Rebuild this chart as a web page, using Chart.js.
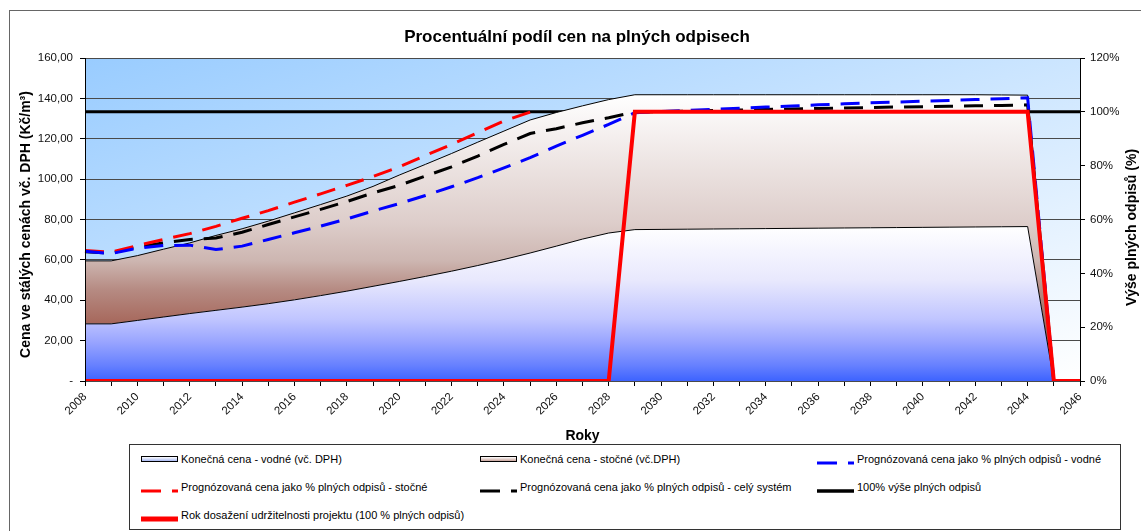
<!DOCTYPE html>
<html lang="cs">
<head>
<meta charset="utf-8">
<title>Procentuální podíl cen na plných odpisech</title>
<script src="https://cdn.jsdelivr.net/npm/chart.js@4.4.1/dist/chart.umd.min.js"></script>
<style>
  body { margin: 0; background: #fff; font-family: 'Liberation Sans', Arial, sans-serif; }
  #wrap { position: relative; width: 1141px; height: 531px; overflow: hidden; }
  #frame { position: absolute; left: 9px; top: 10px; width: 1200px; height: 600px; border: 1px solid #666; }
  #chart { position: absolute; left: 0; top: 0; }
  #legend {
    position: absolute; left: 129px; top: 444px; width: 992px; height: 86px;
    box-sizing: border-box; border: 1px solid #333; background: #fff;
    padding-left: 11px;
    display: grid; grid-template-columns: 339px 337px auto; grid-auto-rows: 28px;
  }
  #legend .item { display: flex; align-items: center; font-size: 11px; color: #000; white-space: nowrap; }
  #legend .swatch { width: 37px; height: 6px; margin-right: 3px; flex: none; }
  #legend .area { box-sizing: border-box; border: 1px solid #000; }
</style>
</head>
<body>
<div id="wrap">
  <div id="frame"></div>
  <canvas id="chart" width="1141" height="531"></canvas>
  <div id="legend"></div>
</div>
<script>
// Roky 2008-2046
const years = [2008, 2009, 2010, 2011, 2012, 2013, 2014, 2015, 2016, 2017, 2018, 2019, 2020,
               2021, 2022, 2023, 2024, 2025, 2026, 2027, 2028, 2029, 2030, 2031, 2032, 2033,
               2034, 2035, 2036, 2037, 2038, 2039, 2040, 2041, 2042, 2043, 2044, 2045, 2046];

// Konečná cena - vodné (Kč/m3)
const vodne = [28.3, 28.3, 30.0, 31.7, 33.4, 35.0, 36.6, 38.3, 40.2, 42.3, 44.5, 46.9, 49.3,
               51.8, 54.4, 57.2, 60.2, 63.4, 66.8, 70.3, 73.3, 75.0, 75.1, 75.2, 75.3, 75.4,
               75.5, 75.6, 75.7, 75.8, 75.9, 76.0, 76.1, 76.2, 76.3, 76.4, 76.5, 0, null];

// Konečná cena - stočné (skládá se nad vodné)
const stocne = [31.2, 31.2, 32.1, 33.6, 35.0, 37.1, 38.8, 40.9, 43.1, 45.1, 47.1, 49.5, 52.7,
                55.5, 58.3, 61.1, 63.6, 65.9, 66.2, 66.0, 66.1, 66.8, 66.7, 66.6, 66.5, 66.4,
                66.3, 66.2, 66.1, 66.0, 65.9, 65.8, 65.7, 65.6, 65.5, 65.3, 65.1, 0, null];

// Prognózovaná cena jako % plných odpisů
const progVodne = [64.3, 63.1, 65.8, 67.1, 67.3, 65.1, 66.8, 70.1, 73.4, 76.7, 80.3, 84.2, 87.9,
                   91.9, 96.2, 100.7, 105.6, 110.6, 116.4, 121.7, 127.1, 132.9, 133.5, 134.0, 134.6, 135.1,
                   135.7, 136.2, 136.8, 137.3, 137.8, 138.2, 138.6, 139.0, 139.4, 139.8, 140.3, 0, null];
const progStocne = [64.6, 63.8, 67.1, 70.1, 73.0, 76.6, 80.6, 84.4, 88.6, 92.7, 96.9, 101.3, 106.1,
                    111.7, 117.2, 123.0, 128.8, 133.2, null, null, null, null, null, null, null, null,
                    null, null, null, null, null, null, null, null, null, null, null, null, null];
const progSystem = [64.0, 63.4, 66.3, 68.4, 70.1, 70.8, 73.7, 77.5, 81.3, 85.0, 88.9, 93.2, 96.9,
                    101.5, 106.1, 111.4, 117.2, 122.6, 125.0, 127.9, 130.4, 133.2, 133.5, 133.7, 134.0, 134.2,
                    134.5, 134.7, 135.0, 135.2, 135.5, 135.7, 135.9, 136.1, 136.3, 136.5, 136.8, 0, null];

// pravá osa (%)
const fullLevel = [100, 100, 100, 100, 100, 100, 100, 100, 100, 100, 100, 100, 100,
                   100, 100, 100, 100, 100, 100, 100, 100, 100, 100, 100, 100, 100,
                   100, 100, 100, 100, 100, 100, 100, 100, 100, 100, 100, 100, 100];
const sustainYear = [0, 0, 0, 0, 0, 0, 0, 0, 0, 0, 0, 0, 0,
                     0, 0, 0, 0, 0, 0, 0, 0, 100, 100, 100, 100, 100,
                     100, 100, 100, 100, 100, 100, 100, 100, 100, 100, 100, 0, 0];

const FONT = "'Liberation Sans', Arial, sans-serif";
Chart.defaults.font.family = FONT;
Chart.defaults.color = '#000';

// vertical gradient from the series' highest value down to the x axis
function areaGradient(context, topValue, stops) {
    const chart = context.chart;
    const area = chart.chartArea;
    if (!area) return 'rgba(0,0,0,0)';
    const top = chart.scales.y.getPixelForValue(topValue);
    const g = chart.ctx.createLinearGradient(0, top, 0, area.bottom);
    stops.forEach(s => g.addColorStop(s[0], s[1]));
    return g;
}

const vodneTop = Math.max(...vodne.filter(v => v !== null));
const totalTop = Math.max(...vodne.map((v, i) => (v || 0) + (stocne[i] || 0)));

// plot area background, diagonal light blue -> white
const plotBackground = {
    id: 'plotBackground',
    beforeDraw(chart) {
        const {ctx, chartArea: a} = chart;
        const w = a.right - a.left, h = a.bottom - a.top;
        const k = 2 * w * h / (w * w + h * h);
        const g = ctx.createLinearGradient(a.left, a.top, a.left + h * k, a.top + w * k);
        g.addColorStop(0, '#99ccff');
        g.addColorStop(1, '#ffffff');
        ctx.save();
        ctx.fillStyle = g;
        ctx.fillRect(a.left, a.top, w, h);
        ctx.restore();
    }
};

// both y titles read bottom-to-top
const sideTitles = {
    id: 'sideTitles',
    afterDraw(chart) {
        const ctx = chart.ctx;
        const mid = (chart.chartArea.top + chart.chartArea.bottom) / 2;
        const draw = (text, x, y) => {
            ctx.save();
            ctx.translate(x, y);
            ctx.rotate(-Math.PI / 2);
            ctx.font = 'bold 14px ' + FONT;
            ctx.fillStyle = '#000';
            ctx.textAlign = 'center';
            ctx.textBaseline = 'middle';
            ctx.fillText(text, 0, 0);
            ctx.restore();
        };
        draw('Cena ve stálých cenách vč. DPH (Kč/m³)', 26.5, mid + 5);
        draw('Výše plných odpisů (%)', 1132, mid + 8);
    }
};

const chart = new Chart(document.getElementById('chart'), {
    type: 'line',
    data: {
        labels: years,
        datasets: [
            {
                label: 'Konečná cena - vodné (vč. DPH)',
                data: vodne, yAxisID: 'y', stack: 'ceny', order: 2,
                fill: 'origin', borderColor: '#000', borderWidth: 1,
                backgroundColor: c => areaGradient(c, vodneTop, [
                    [0, '#ffffff'], [0.35, '#e8e8fd'], [0.6, '#c0c5ff'],
                    [0.75, '#98a4ff'], [0.9, '#6680ff'], [1, '#3d63ff']]),
                legendFill: 'linear-gradient(#ffffff, #a9b9f2)'
            },
            {
                label: 'Konečná cena - stočné (vč.DPH)',
                data: stocne, yAxisID: 'y', stack: 'ceny', order: 2,
                fill: '-1', borderColor: '#000', borderWidth: 1,
                backgroundColor: c => areaGradient(c, totalTop, [
                    [0, '#ffffff'], [0.45, '#ddcdca'], [0.58, '#cdb6b1'],
                    [0.68, '#b68b83'], [0.8, '#a6675b'], [1, '#984c3e']]),
                legendFill: 'linear-gradient(#ffffff, #c9a49c)'
            },
            {
                label: 'Prognózovaná cena jako % plných odpisů - vodné',
                data: progVodne, yAxisID: 'y', stack: 'pv', order: 1,
                fill: false, borderColor: '#0000ff', borderWidth: 3, borderDash: [19, 11]
            },
            {
                label: 'Prognózovaná cena jako % plných odpisů - stočné',
                data: progStocne, yAxisID: 'y', stack: 'ps', order: 1,
                fill: false, borderColor: '#ff0000', borderWidth: 3, borderDash: [19, 11]
            },
            {
                label: 'Prognózovaná cena jako % plných odpisů - celý systém',
                data: progSystem, yAxisID: 'y', stack: 'pc', order: 1,
                fill: false, borderColor: '#000000', borderWidth: 3, borderDash: [19, 11]
            },
            {
                label: '100% výše plných odpisů',
                data: fullLevel, yAxisID: 'y1', order: 3,
                fill: false, borderColor: '#000000', borderWidth: 3
            },
            {
                label: 'Rok dosažení udržitelnosti projektu (100 % plných odpisů)',
                data: sustainYear, yAxisID: 'y1', order: 0,
                fill: false, borderColor: '#ff0000', borderWidth: 4
            }
        ]
    },
    options: {
        responsive: false,
        animation: false,
        elements: { point: { radius: 0, hoverRadius: 0 }, line: { tension: 0, borderJoinStyle: 'miter' } },
        layout: { padding: { top: 27, left: 14, right: 1, bottom: 86 } },
        plugins: {
            legend: { display: false },
            tooltip: { enabled: false },
            title: {
                display: true,
                text: 'Procentuální podíl cen na plných odpisech',
                font: { size: 17, weight: 'bold' },
                color: '#000',
                padding: { top: 0, bottom: 10.6 }
            }
        },
        scales: {
            x: {
                type: 'category',
                offset: false,
                grid: { drawOnChartArea: false, drawTicks: true, tickLength: 5, color: '#000' },
                border: { display: false },
                ticks: {
                    autoSkip: false, maxRotation: 45, minRotation: 45, padding: 4,
                    font: { size: 11.5 }, color: '#111',
                    callback: (v, i) => i % 2 === 0 ? String(years[i]) : ''
                },
                title: { display: true, text: 'Roky', font: { size: 14, weight: 'bold' }, color: '#000', padding: 0 },
                afterFit: s => { s.height = 64; }
            },
            y: {
                position: 'left',
                stacked: true,
                min: 0, max: 160,
                grid: { color: '#4a4a4a', lineWidth: 1, tickLength: 5, tickColor: '#000' },
                border: { color: '#000', z: 1 },
                ticks: {
                    stepSize: 20, padding: 7, font: { size: 11.5 }, color: '#111',
                    callback: v => v === 0 ? '-' : v.toFixed(2).replace('.', ',')
                },
                afterFit: s => { s.width = 71; }
            },
            y1: {
                position: 'right',
                min: 0, max: 120,
                grid: { drawOnChartArea: false, tickLength: 5, color: '#000' },
                border: { color: '#000', z: 1 },
                ticks: { stepSize: 20, padding: 5, font: { size: 11.5 }, color: '#111', callback: v => v + '%' },
                afterFit: s => { s.width = 60; }
            }
        }
    },
    plugins: [plotBackground, sideTitles]
});

// HTML legend in three columns, built from the datasets
function buildLegend(chart) {
    const box = document.getElementById('legend');
    chart.data.datasets.forEach(ds => {
        const item = document.createElement('div');
        item.className = 'item';
        let swatch;
        if (ds.legendFill) {
            swatch = document.createElement('div');
            swatch.className = 'swatch area';
            swatch.style.background = ds.legendFill;
        } else {
            const dash = ds.borderDash ? 'stroke-dasharray="20 11 6 100"' : '';
            const w = ds.borderWidth > 3 ? 5 : (ds.borderDash ? 3 : 3.5);
            swatch = document.createElement('span');
            swatch.className = 'swatch';
            swatch.innerHTML = `<svg width="37" height="6"><line x1="0" y1="3" x2="37" y2="3" stroke="${ds.borderColor}" stroke-width="${w}" ${dash}/></svg>`;
        }
        const label = document.createElement('span');
        label.textContent = ds.label;
        item.appendChild(swatch);
        item.appendChild(label);
        box.appendChild(item);
    });
}
buildLegend(chart);
</script>
</body>
</html>
